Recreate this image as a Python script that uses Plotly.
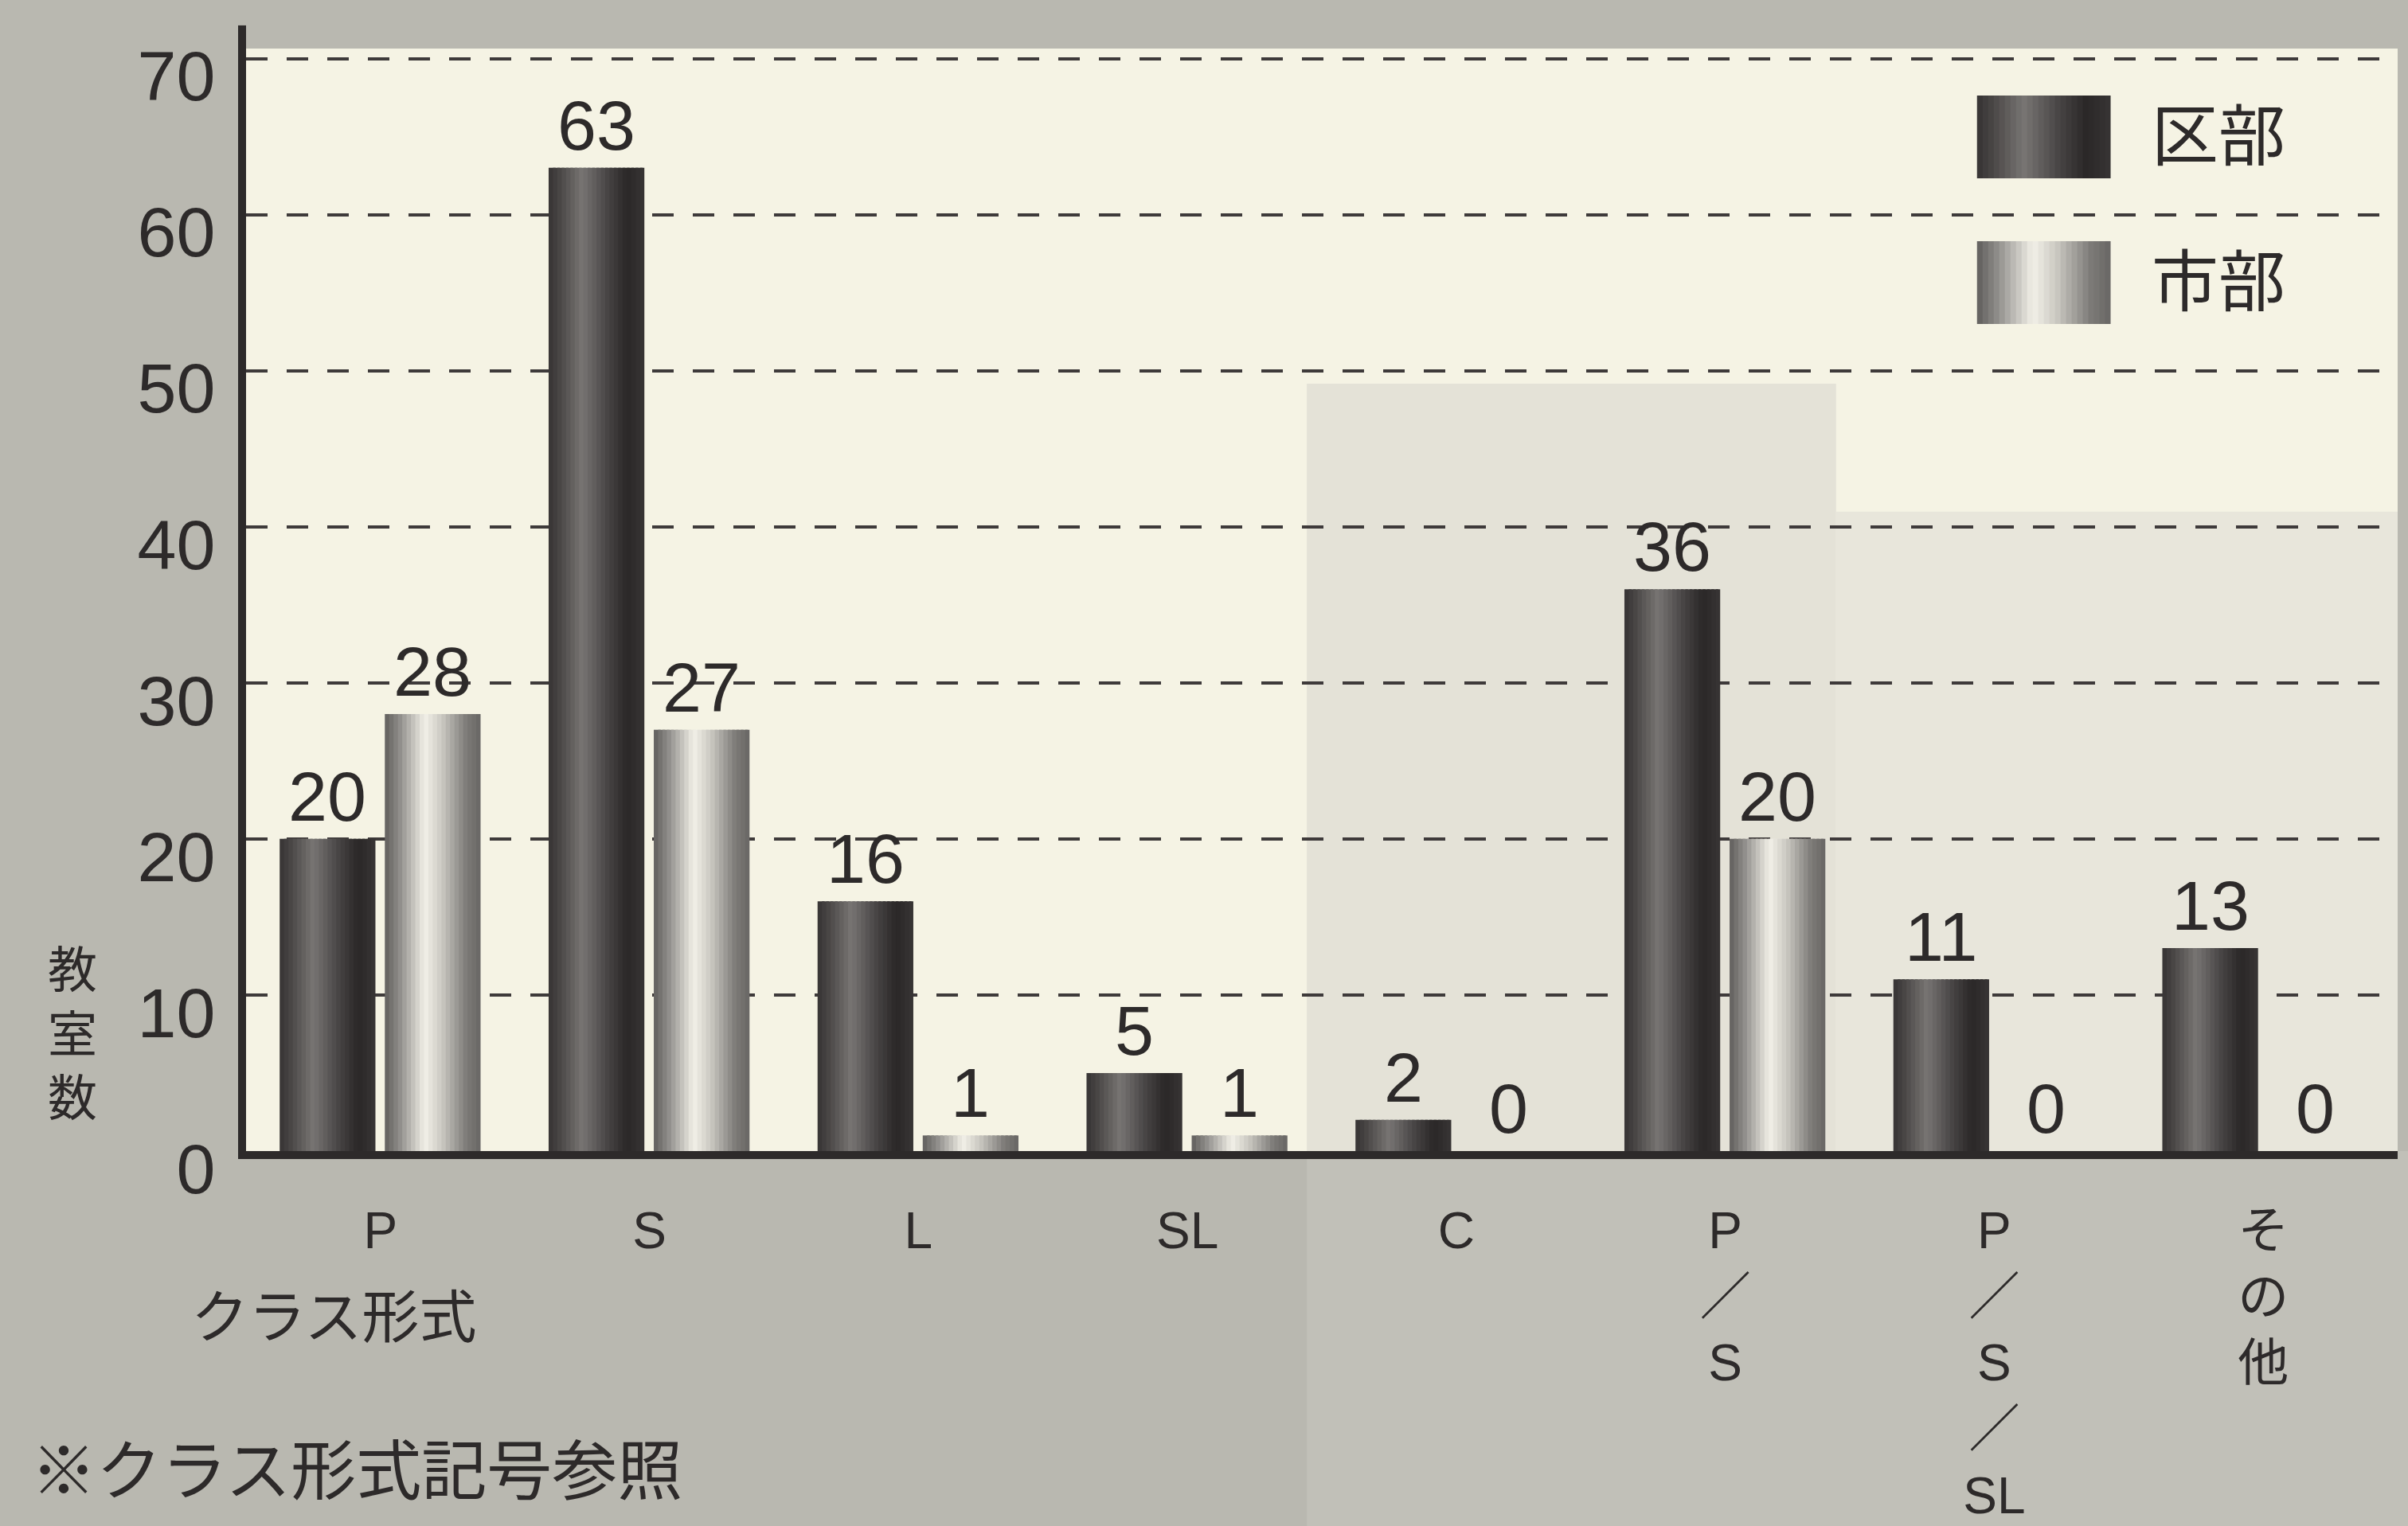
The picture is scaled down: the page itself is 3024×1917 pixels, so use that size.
import plotly.graph_objects as go

# ---- data -------------------------------------------------------------
categories = ["P", "S", "L", "SL", "C", "P／S", "P／S／SL", "その他"]
tick_labels = ["P", "S", "L", "SL", "C",
               "P<br>／<br>S",
               "P<br>／<br>S<br>／<br>SL",
               "そ<br>の<br>他"]
ku_values = [20, 63, 16, 5, 2, 36, 11, 13]     # 区部
shi_values = [28, 27, 1, 1, 0, 20, 0, 0]       # 市部
series_names = ["区部", "市部"]

# ---- style ------------------------------------------------------------
FONT = "Liberation Sans, Arial, Noto Sans CJK JP, sans-serif"
INK = "#2d2a2a"
PAPER = "#b9b8b0"
PLOT_BG = "#f5f3e4"

# cylinder-like shading, left -> right
DARK_STOPS = [(0.0, (0x36, 0x33, 0x33)), (0.12, (0x4a, 0x47, 0x46)),
              (0.35, (0x78, 0x75, 0x73)), (0.6, (0x4a, 0x47, 0x47)),
              (0.82, (0x2a, 0x27, 0x27)), (1.0, (0x38, 0x35, 0x35))]
LIGHT_STOPS = [(0.0, (0x60, 0x5e, 0x5c)), (0.15, (0x8e, 0x8c, 0x89)),
               (0.42, (0xf2, 0xf0, 0xe8)), (0.6, (0xc9, 0xc7, 0xc0)),
               (0.85, (0x7d, 0x7b, 0x78)), (1.0, (0x68, 0x66, 0x64))]


def shade(stops, t):
    for (t0, c0), (t1, c1) in zip(stops[:-1], stops[1:]):
        if t0 <= t <= t1:
            f = (t - t0) / (t1 - t0) if t1 > t0 else 0
            c = [round(a + (b - a) * f) for a, b in zip(c0, c1)]
            return "rgb(%d,%d,%d)" % tuple(c)
    return "rgb(%d,%d,%d)" % stops[-1][1]


N_STRIPS = 22
BAR_W = 0.356
OFFSETS = [-0.375, 0.016]          # 区部, 市部 within each category
xs = list(range(len(categories)))

fig = go.Figure()

for values, off, stops in ((ku_values, OFFSETS[0], DARK_STOPS),
                           (shi_values, OFFSETS[1], LIGHT_STOPS)):
    dw = BAR_W / N_STRIPS
    for k in range(N_STRIPS):
        o = off + k * dw
        w = min(dw * 1.6, off + BAR_W - o)
        fig.add_trace(go.Bar(
            x=xs, y=values, offset=o, width=w,
            marker=dict(color=shade(stops, (k + 0.5) / N_STRIPS),
                        line=dict(width=0)),
            showlegend=False, hoverinfo="skip",
        ))

# value labels above each bar
annotations = []
for values, off in ((ku_values, OFFSETS[0]), (shi_values, OFFSETS[1])):
    for x, v in zip(xs, values):
        annotations.append(dict(
            x=x + off + BAR_W / 2, y=v, xref="x", yref="y",
            text=str(v), showarrow=False, yanchor="bottom", yshift=2,
            font=dict(family=FONT, size=88, color=INK),
        ))

# y axis title, stacked upright
annotations.append(dict(
    x=-0.0805, y=0.1054, xref="paper", yref="paper", text="教<br>室<br>数",
    showarrow=False, xanchor="center", yanchor="middle",
    font=dict(family=FONT, size=62, color=INK),
))

annotations.append(dict(
    x=0.0410, y=-0.151, xref="paper", yref="paper", text="クラス形式",
    showarrow=False, xanchor="center", yanchor="middle",
    font=dict(family=FONT, size=72, color=INK),
))
annotations.append(dict(
    x=-0.1005, y=-0.2565, xref="paper", yref="paper", text="※クラス形式記号参照",
    showarrow=False, xanchor="left", yanchor="top",
    font=dict(family=FONT, size=82, color=INK),
))

# legend: shaded swatches + labels
shapes = []
LEG_X0, LEG_X1 = 0.8045, 0.8666
legend_rows = [((0.8823, 0.9574), DARK_STOPS, 0.9199),
               ((0.7502, 0.8253), LIGHT_STOPS, 0.7877)]
for (y0, y1), stops, ty in legend_rows:
    n = 24
    step = (LEG_X1 - LEG_X0) / n
    for k in range(n):
        shapes.append(dict(
            type="rect", xref="paper", yref="paper",
            x0=LEG_X0 + k * step, x1=min(LEG_X0 + (k + 1.6) * step, LEG_X1),
            y0=y0, y1=y1, line=dict(width=0),
            fillcolor=shade(stops, (k + 0.5) / n), layer="above",
        ))
for name, (_, _, ty) in zip(series_names, legend_rows):
    annotations.append(dict(
        x=0.885, y=ty, xref="paper", yref="paper", text=name,
        showarrow=False, xanchor="left", yanchor="middle",
        font=dict(family=FONT, size=84, color=INK),
    ))

# faint printed photo behind the plot
shapes += [
    dict(type="rect", xref="paper", yref="paper", x0=0.493, x1=0.739,
         y0=0, y1=0.696, fillcolor="#e4e2d7", line=dict(width=0), layer="below"),
    dict(type="rect", xref="paper", yref="paper", x0=0.739, x1=1.0,
         y0=0, y1=0.58, fillcolor="#e8e6db", line=dict(width=0), layer="below"),
    dict(type="rect", xref="paper", yref="paper", x0=0.493, x1=1.01,
         y0=-0.36, y1=0, fillcolor="#c1c0b8", line=dict(width=0), layer="below"),
]
# value axis line runs a little past the top of the plot
shapes.append(dict(
    type="line", xref="paper", yref="paper", xsizemode="pixel", xanchor=0,
    x0=-5, x1=-5, y0=0.99, y1=1.021, line=dict(color=INK, width=10),
))

fig.update_layout(
    width=3024, height=1917,
    margin=dict(l=309, r=13, t=61, b=471),
    paper_bgcolor=PAPER, plot_bgcolor=PLOT_BG,
    barmode="overlay", showlegend=False,
    font=dict(family=FONT, color=INK),
    annotations=annotations, shapes=shapes,
    xaxis=dict(
        range=[-0.5, len(categories) - 0.5],
        tickmode="array", tickvals=xs, ticktext=tick_labels,
        tickfont=dict(family=FONT, size=64, color=INK),
        ticks="", ticklabelstandoff=35, automargin=False,
        showgrid=False, zeroline=False,
        showline=True, linecolor=INK, linewidth=10,
    ),
    yaxis=dict(
        range=[0, 70.64],
        tickmode="array", tickvals=[0, 10, 20, 30, 40, 50, 60, 70],
        tickfont=dict(family=FONT, size=88, color=INK),
        ticks="", ticklabelstandoff=11, ticklabelshift=22, automargin=False,
        showgrid=True, gridcolor="#3e3a3a", gridwidth=4, griddash="27px,24px",
        zeroline=False,
        showline=True, linecolor=INK, linewidth=10,
    ),
)

fig.write_html("out.html")
